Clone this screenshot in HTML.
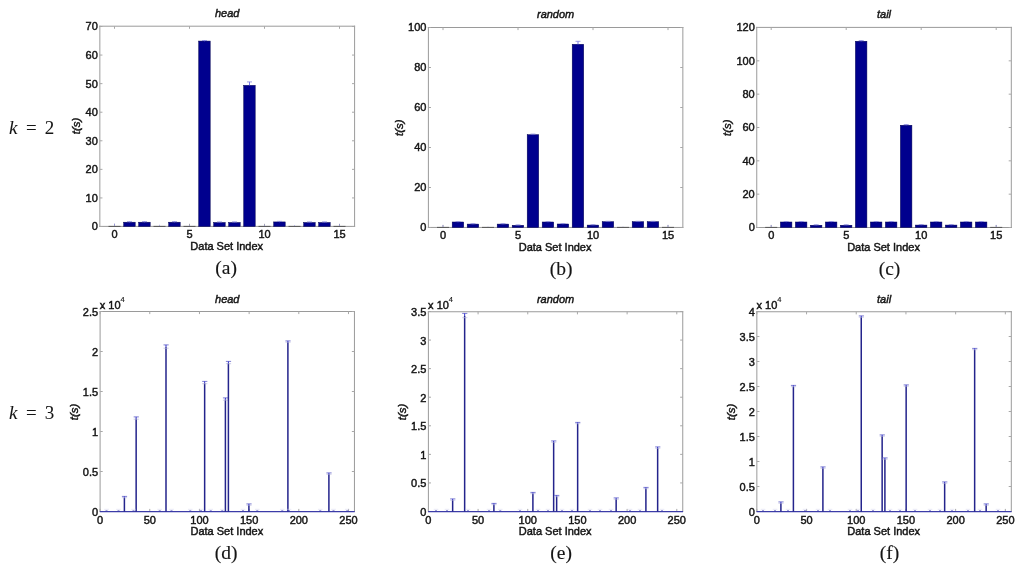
<!DOCTYPE html>
<html><head><meta charset="utf-8"><style>
html,body{margin:0;padding:0;background:#fff;width:1024px;height:576px;overflow:hidden;}
svg{display:block;will-change:transform;}
</style></head><body>
<svg width="1024" height="576" viewBox="0 0 1024 576">
<rect width="1024" height="576" fill="#fff"/>
<line x1="99.85" y1="25.70" x2="99.85" y2="226.90" stroke="#9a9a9a" stroke-width="1"/>
<line x1="354.60" y1="25.70" x2="354.60" y2="226.90" stroke="#9a9a9a" stroke-width="1"/>
<line x1="99.35" y1="26.20" x2="355.10" y2="26.20" stroke="#9a9a9a" stroke-width="1"/>
<line x1="99.35" y1="226.40" x2="355.10" y2="226.40" stroke="#9a9a9a" stroke-width="1"/>
<line x1="114.50" y1="26.20" x2="114.50" y2="28.80" stroke="#a8a8a8" stroke-width="1"/>
<line x1="114.50" y1="226.40" x2="114.50" y2="223.80" stroke="#a8a8a8" stroke-width="1"/>
<line x1="189.50" y1="26.20" x2="189.50" y2="28.80" stroke="#a8a8a8" stroke-width="1"/>
<line x1="189.50" y1="226.40" x2="189.50" y2="223.80" stroke="#a8a8a8" stroke-width="1"/>
<line x1="264.50" y1="26.20" x2="264.50" y2="28.80" stroke="#a8a8a8" stroke-width="1"/>
<line x1="264.50" y1="226.40" x2="264.50" y2="223.80" stroke="#a8a8a8" stroke-width="1"/>
<line x1="339.50" y1="26.20" x2="339.50" y2="28.80" stroke="#a8a8a8" stroke-width="1"/>
<line x1="339.50" y1="226.40" x2="339.50" y2="223.80" stroke="#a8a8a8" stroke-width="1"/>
<line x1="99.85" y1="226.50" x2="102.45" y2="226.50" stroke="#a8a8a8" stroke-width="1"/>
<line x1="354.60" y1="226.50" x2="352.00" y2="226.50" stroke="#a8a8a8" stroke-width="1"/>
<line x1="99.85" y1="197.93" x2="102.45" y2="197.93" stroke="#a8a8a8" stroke-width="1"/>
<line x1="354.60" y1="197.93" x2="352.00" y2="197.93" stroke="#a8a8a8" stroke-width="1"/>
<line x1="99.85" y1="169.36" x2="102.45" y2="169.36" stroke="#a8a8a8" stroke-width="1"/>
<line x1="354.60" y1="169.36" x2="352.00" y2="169.36" stroke="#a8a8a8" stroke-width="1"/>
<line x1="99.85" y1="140.79" x2="102.45" y2="140.79" stroke="#a8a8a8" stroke-width="1"/>
<line x1="354.60" y1="140.79" x2="352.00" y2="140.79" stroke="#a8a8a8" stroke-width="1"/>
<line x1="99.85" y1="112.21" x2="102.45" y2="112.21" stroke="#a8a8a8" stroke-width="1"/>
<line x1="354.60" y1="112.21" x2="352.00" y2="112.21" stroke="#a8a8a8" stroke-width="1"/>
<line x1="99.85" y1="83.64" x2="102.45" y2="83.64" stroke="#a8a8a8" stroke-width="1"/>
<line x1="354.60" y1="83.64" x2="352.00" y2="83.64" stroke="#a8a8a8" stroke-width="1"/>
<line x1="99.85" y1="55.07" x2="102.45" y2="55.07" stroke="#a8a8a8" stroke-width="1"/>
<line x1="354.60" y1="55.07" x2="352.00" y2="55.07" stroke="#a8a8a8" stroke-width="1"/>
<line x1="99.85" y1="26.50" x2="102.45" y2="26.50" stroke="#a8a8a8" stroke-width="1"/>
<line x1="354.60" y1="26.50" x2="352.00" y2="26.50" stroke="#a8a8a8" stroke-width="1"/>
<line x1="108.50" y1="226.40" x2="120.50" y2="226.40" stroke="#555" stroke-width="1"/>
<line x1="114.50" y1="225.90" x2="114.50" y2="223.64" stroke="#9090e0" stroke-width="0.7"/>
<rect x="123.70" y="222.21" width="11.5" height="4.29" fill="#00008e" stroke="#000050" stroke-width="0.5"/>
<line x1="129.50" y1="222.71" x2="129.50" y2="221.64" stroke="#3a3ae0" stroke-width="0.7"/>
<line x1="127.00" y1="221.64" x2="132.00" y2="221.64" stroke="#8484dc" stroke-width="0.8"/>
<rect x="138.70" y="222.21" width="11.5" height="4.29" fill="#00008e" stroke="#000050" stroke-width="0.5"/>
<line x1="144.50" y1="222.71" x2="144.50" y2="221.64" stroke="#3a3ae0" stroke-width="0.7"/>
<line x1="142.00" y1="221.64" x2="147.00" y2="221.64" stroke="#8484dc" stroke-width="0.8"/>
<line x1="153.50" y1="226.40" x2="165.50" y2="226.40" stroke="#555" stroke-width="1"/>
<line x1="159.50" y1="225.90" x2="159.50" y2="224.79" stroke="#9090e0" stroke-width="0.7"/>
<rect x="168.70" y="222.21" width="11.5" height="4.29" fill="#00008e" stroke="#000050" stroke-width="0.5"/>
<line x1="174.50" y1="222.71" x2="174.50" y2="221.64" stroke="#3a3ae0" stroke-width="0.7"/>
<line x1="172.00" y1="221.64" x2="177.00" y2="221.64" stroke="#8484dc" stroke-width="0.8"/>
<line x1="183.50" y1="226.40" x2="195.50" y2="226.40" stroke="#555" stroke-width="1"/>
<line x1="189.50" y1="225.90" x2="189.50" y2="225.07" stroke="#9090e0" stroke-width="0.7"/>
<rect x="198.70" y="41.07" width="11.5" height="185.43" fill="#00008e" stroke="#000050" stroke-width="0.5"/>
<line x1="204.50" y1="41.57" x2="204.50" y2="40.50" stroke="#3a3ae0" stroke-width="0.7"/>
<line x1="202.00" y1="40.50" x2="207.00" y2="40.50" stroke="#8484dc" stroke-width="0.8"/>
<rect x="213.70" y="222.50" width="11.5" height="4.00" fill="#00008e" stroke="#000050" stroke-width="0.5"/>
<line x1="219.50" y1="223.00" x2="219.50" y2="221.93" stroke="#3a3ae0" stroke-width="0.7"/>
<line x1="217.00" y1="221.93" x2="222.00" y2="221.93" stroke="#8484dc" stroke-width="0.8"/>
<rect x="228.70" y="222.50" width="11.5" height="4.00" fill="#00008e" stroke="#000050" stroke-width="0.5"/>
<line x1="234.50" y1="223.00" x2="234.50" y2="221.93" stroke="#3a3ae0" stroke-width="0.7"/>
<line x1="232.00" y1="221.93" x2="237.00" y2="221.93" stroke="#8484dc" stroke-width="0.8"/>
<rect x="243.70" y="85.36" width="11.5" height="141.14" fill="#00008e" stroke="#000050" stroke-width="0.5"/>
<line x1="249.50" y1="85.86" x2="249.50" y2="81.93" stroke="#3a3ae0" stroke-width="0.7"/>
<line x1="247.00" y1="81.93" x2="252.00" y2="81.93" stroke="#8484dc" stroke-width="0.8"/>
<line x1="258.50" y1="226.40" x2="270.50" y2="226.40" stroke="#555" stroke-width="1"/>
<line x1="264.50" y1="225.90" x2="264.50" y2="224.79" stroke="#9090e0" stroke-width="0.7"/>
<rect x="273.70" y="221.93" width="11.5" height="4.57" fill="#00008e" stroke="#000050" stroke-width="0.5"/>
<line x1="279.50" y1="222.43" x2="279.50" y2="221.36" stroke="#3a3ae0" stroke-width="0.7"/>
<line x1="277.00" y1="221.36" x2="282.00" y2="221.36" stroke="#8484dc" stroke-width="0.8"/>
<line x1="288.50" y1="226.40" x2="300.50" y2="226.40" stroke="#555" stroke-width="1"/>
<line x1="294.50" y1="225.90" x2="294.50" y2="225.07" stroke="#9090e0" stroke-width="0.7"/>
<rect x="303.70" y="222.50" width="11.5" height="4.00" fill="#00008e" stroke="#000050" stroke-width="0.5"/>
<line x1="309.50" y1="223.00" x2="309.50" y2="221.93" stroke="#3a3ae0" stroke-width="0.7"/>
<line x1="307.00" y1="221.93" x2="312.00" y2="221.93" stroke="#8484dc" stroke-width="0.8"/>
<rect x="318.70" y="222.50" width="11.5" height="4.00" fill="#00008e" stroke="#000050" stroke-width="0.5"/>
<line x1="324.50" y1="223.00" x2="324.50" y2="221.93" stroke="#3a3ae0" stroke-width="0.7"/>
<line x1="322.00" y1="221.93" x2="327.00" y2="221.93" stroke="#8484dc" stroke-width="0.8"/>
<line x1="333.50" y1="226.40" x2="345.50" y2="226.40" stroke="#555" stroke-width="1"/>
<line x1="339.50" y1="225.90" x2="339.50" y2="224.21" stroke="#9090e0" stroke-width="0.7"/>
<text x="97.85" y="230.45" font-family='"Liberation Sans", sans-serif' font-size="11" text-anchor="end" fill="#151515" stroke="#151515" stroke-width="0.45" >0</text>
<text x="97.85" y="201.88" font-family='"Liberation Sans", sans-serif' font-size="11" text-anchor="end" fill="#151515" stroke="#151515" stroke-width="0.45" >10</text>
<text x="97.85" y="173.31" font-family='"Liberation Sans", sans-serif' font-size="11" text-anchor="end" fill="#151515" stroke="#151515" stroke-width="0.45" >20</text>
<text x="97.85" y="144.74" font-family='"Liberation Sans", sans-serif' font-size="11" text-anchor="end" fill="#151515" stroke="#151515" stroke-width="0.45" >30</text>
<text x="97.85" y="116.16" font-family='"Liberation Sans", sans-serif' font-size="11" text-anchor="end" fill="#151515" stroke="#151515" stroke-width="0.45" >40</text>
<text x="97.85" y="87.59" font-family='"Liberation Sans", sans-serif' font-size="11" text-anchor="end" fill="#151515" stroke="#151515" stroke-width="0.45" >50</text>
<text x="97.85" y="59.02" font-family='"Liberation Sans", sans-serif' font-size="11" text-anchor="end" fill="#151515" stroke="#151515" stroke-width="0.45" >60</text>
<text x="97.85" y="30.45" font-family='"Liberation Sans", sans-serif' font-size="11" text-anchor="end" fill="#151515" stroke="#151515" stroke-width="0.45" >70</text>
<text x="114.50" y="238.00" font-family='"Liberation Sans", sans-serif' font-size="11" text-anchor="middle" fill="#151515" stroke="#151515" stroke-width="0.45" >0</text>
<text x="189.50" y="238.00" font-family='"Liberation Sans", sans-serif' font-size="11" text-anchor="middle" fill="#151515" stroke="#151515" stroke-width="0.45" >5</text>
<text x="264.50" y="238.00" font-family='"Liberation Sans", sans-serif' font-size="11" text-anchor="middle" fill="#151515" stroke="#151515" stroke-width="0.45" >10</text>
<text x="339.50" y="238.00" font-family='"Liberation Sans", sans-serif' font-size="11" text-anchor="middle" fill="#151515" stroke="#151515" stroke-width="0.45" >15</text>
<text x="227.23" y="17.00" font-family='"Liberation Sans", sans-serif' font-size="11" text-anchor="middle" fill="#151515" stroke="#151515" stroke-width="0.45" font-style="italic" >head</text>
<text x="226.73" y="249.50" font-family='"Liberation Sans", sans-serif' font-size="11" text-anchor="middle" fill="#151515" stroke="#151515" stroke-width="0.45" >Data Set Index</text>
<text x="80.25" y="126.00" font-family='"Liberation Sans", sans-serif' font-size="11.5" text-anchor="middle" fill="#151515" stroke="#151515" stroke-width="0.45" font-style="italic" transform="rotate(-90 80.25 126.00)">t(s)</text>
<text x="226.20" y="273.80" font-family='"Liberation Serif", serif' font-size="19.5" text-anchor="middle" fill="#151515" stroke="#151515" stroke-width="0.15" >(a)</text>
<line x1="428.40" y1="27.00" x2="428.40" y2="227.95" stroke="#9a9a9a" stroke-width="1"/>
<line x1="682.85" y1="27.00" x2="682.85" y2="227.95" stroke="#9a9a9a" stroke-width="1"/>
<line x1="427.90" y1="27.50" x2="683.35" y2="27.50" stroke="#9a9a9a" stroke-width="1"/>
<line x1="427.90" y1="227.45" x2="683.35" y2="227.45" stroke="#9a9a9a" stroke-width="1"/>
<line x1="443.00" y1="27.50" x2="443.00" y2="30.10" stroke="#a8a8a8" stroke-width="1"/>
<line x1="443.00" y1="227.45" x2="443.00" y2="224.85" stroke="#a8a8a8" stroke-width="1"/>
<line x1="518.00" y1="27.50" x2="518.00" y2="30.10" stroke="#a8a8a8" stroke-width="1"/>
<line x1="518.00" y1="227.45" x2="518.00" y2="224.85" stroke="#a8a8a8" stroke-width="1"/>
<line x1="593.00" y1="27.50" x2="593.00" y2="30.10" stroke="#a8a8a8" stroke-width="1"/>
<line x1="593.00" y1="227.45" x2="593.00" y2="224.85" stroke="#a8a8a8" stroke-width="1"/>
<line x1="668.00" y1="27.50" x2="668.00" y2="30.10" stroke="#a8a8a8" stroke-width="1"/>
<line x1="668.00" y1="227.45" x2="668.00" y2="224.85" stroke="#a8a8a8" stroke-width="1"/>
<line x1="428.40" y1="227.50" x2="431.00" y2="227.50" stroke="#a8a8a8" stroke-width="1"/>
<line x1="682.85" y1="227.50" x2="680.25" y2="227.50" stroke="#a8a8a8" stroke-width="1"/>
<line x1="428.40" y1="187.50" x2="431.00" y2="187.50" stroke="#a8a8a8" stroke-width="1"/>
<line x1="682.85" y1="187.50" x2="680.25" y2="187.50" stroke="#a8a8a8" stroke-width="1"/>
<line x1="428.40" y1="147.50" x2="431.00" y2="147.50" stroke="#a8a8a8" stroke-width="1"/>
<line x1="682.85" y1="147.50" x2="680.25" y2="147.50" stroke="#a8a8a8" stroke-width="1"/>
<line x1="428.40" y1="107.50" x2="431.00" y2="107.50" stroke="#a8a8a8" stroke-width="1"/>
<line x1="682.85" y1="107.50" x2="680.25" y2="107.50" stroke="#a8a8a8" stroke-width="1"/>
<line x1="428.40" y1="67.50" x2="431.00" y2="67.50" stroke="#a8a8a8" stroke-width="1"/>
<line x1="682.85" y1="67.50" x2="680.25" y2="67.50" stroke="#a8a8a8" stroke-width="1"/>
<line x1="428.40" y1="27.50" x2="431.00" y2="27.50" stroke="#a8a8a8" stroke-width="1"/>
<line x1="682.85" y1="27.50" x2="680.25" y2="27.50" stroke="#a8a8a8" stroke-width="1"/>
<line x1="437.00" y1="227.40" x2="449.00" y2="227.40" stroke="#555" stroke-width="1"/>
<line x1="443.00" y1="226.90" x2="443.00" y2="225.10" stroke="#9090e0" stroke-width="0.7"/>
<rect x="452.20" y="222.00" width="11.5" height="5.50" fill="#00008e" stroke="#000050" stroke-width="0.5"/>
<line x1="458.00" y1="222.50" x2="458.00" y2="221.60" stroke="#3a3ae0" stroke-width="0.7"/>
<line x1="455.50" y1="221.60" x2="460.50" y2="221.60" stroke="#8484dc" stroke-width="0.8"/>
<rect x="467.20" y="224.10" width="11.5" height="3.40" fill="#00008e" stroke="#000050" stroke-width="0.5"/>
<line x1="473.00" y1="224.60" x2="473.00" y2="223.70" stroke="#3a3ae0" stroke-width="0.7"/>
<line x1="470.50" y1="223.70" x2="475.50" y2="223.70" stroke="#8484dc" stroke-width="0.8"/>
<line x1="482.00" y1="227.40" x2="494.00" y2="227.40" stroke="#555" stroke-width="1"/>
<line x1="488.00" y1="226.90" x2="488.00" y2="226.50" stroke="#9090e0" stroke-width="0.7"/>
<rect x="497.20" y="224.10" width="11.5" height="3.40" fill="#00008e" stroke="#000050" stroke-width="0.5"/>
<line x1="503.00" y1="224.60" x2="503.00" y2="223.70" stroke="#3a3ae0" stroke-width="0.7"/>
<line x1="500.50" y1="223.70" x2="505.50" y2="223.70" stroke="#8484dc" stroke-width="0.8"/>
<rect x="512.20" y="225.30" width="11.5" height="2.20" fill="#00008e" stroke="#000050" stroke-width="0.5"/>
<line x1="518.00" y1="225.80" x2="518.00" y2="224.90" stroke="#3a3ae0" stroke-width="0.7"/>
<line x1="515.50" y1="224.90" x2="520.50" y2="224.90" stroke="#8484dc" stroke-width="0.8"/>
<rect x="527.20" y="134.70" width="11.5" height="92.80" fill="#00008e" stroke="#000050" stroke-width="0.5"/>
<line x1="533.00" y1="135.20" x2="533.00" y2="134.10" stroke="#3a3ae0" stroke-width="0.7"/>
<line x1="530.50" y1="134.10" x2="535.50" y2="134.10" stroke="#8484dc" stroke-width="0.8"/>
<rect x="542.20" y="222.00" width="11.5" height="5.50" fill="#00008e" stroke="#000050" stroke-width="0.5"/>
<line x1="548.00" y1="222.50" x2="548.00" y2="221.60" stroke="#3a3ae0" stroke-width="0.7"/>
<line x1="545.50" y1="221.60" x2="550.50" y2="221.60" stroke="#8484dc" stroke-width="0.8"/>
<rect x="557.20" y="224.00" width="11.5" height="3.50" fill="#00008e" stroke="#000050" stroke-width="0.5"/>
<line x1="563.00" y1="224.50" x2="563.00" y2="223.60" stroke="#3a3ae0" stroke-width="0.7"/>
<line x1="560.50" y1="223.60" x2="565.50" y2="223.60" stroke="#8484dc" stroke-width="0.8"/>
<rect x="572.20" y="44.30" width="11.5" height="183.20" fill="#00008e" stroke="#000050" stroke-width="0.5"/>
<line x1="578.00" y1="44.80" x2="578.00" y2="41.30" stroke="#3a3ae0" stroke-width="0.7"/>
<line x1="575.50" y1="41.30" x2="580.50" y2="41.30" stroke="#8484dc" stroke-width="0.8"/>
<rect x="587.20" y="225.10" width="11.5" height="2.40" fill="#00008e" stroke="#000050" stroke-width="0.5"/>
<line x1="593.00" y1="225.60" x2="593.00" y2="224.70" stroke="#3a3ae0" stroke-width="0.7"/>
<line x1="590.50" y1="224.70" x2="595.50" y2="224.70" stroke="#8484dc" stroke-width="0.8"/>
<rect x="602.20" y="221.70" width="11.5" height="5.80" fill="#00008e" stroke="#000050" stroke-width="0.5"/>
<line x1="608.00" y1="222.20" x2="608.00" y2="221.30" stroke="#3a3ae0" stroke-width="0.7"/>
<line x1="605.50" y1="221.30" x2="610.50" y2="221.30" stroke="#8484dc" stroke-width="0.8"/>
<line x1="617.00" y1="227.40" x2="629.00" y2="227.40" stroke="#555" stroke-width="1"/>
<line x1="623.00" y1="226.90" x2="623.00" y2="226.50" stroke="#9090e0" stroke-width="0.7"/>
<rect x="632.20" y="221.70" width="11.5" height="5.80" fill="#00008e" stroke="#000050" stroke-width="0.5"/>
<line x1="638.00" y1="222.20" x2="638.00" y2="221.30" stroke="#3a3ae0" stroke-width="0.7"/>
<line x1="635.50" y1="221.30" x2="640.50" y2="221.30" stroke="#8484dc" stroke-width="0.8"/>
<rect x="647.20" y="221.70" width="11.5" height="5.80" fill="#00008e" stroke="#000050" stroke-width="0.5"/>
<line x1="653.00" y1="222.20" x2="653.00" y2="221.30" stroke="#3a3ae0" stroke-width="0.7"/>
<line x1="650.50" y1="221.30" x2="655.50" y2="221.30" stroke="#8484dc" stroke-width="0.8"/>
<line x1="662.00" y1="227.40" x2="674.00" y2="227.40" stroke="#555" stroke-width="1"/>
<line x1="668.00" y1="226.90" x2="668.00" y2="225.10" stroke="#9090e0" stroke-width="0.7"/>
<text x="426.40" y="231.45" font-family='"Liberation Sans", sans-serif' font-size="11" text-anchor="end" fill="#151515" stroke="#151515" stroke-width="0.45" >0</text>
<text x="426.40" y="191.45" font-family='"Liberation Sans", sans-serif' font-size="11" text-anchor="end" fill="#151515" stroke="#151515" stroke-width="0.45" >20</text>
<text x="426.40" y="151.45" font-family='"Liberation Sans", sans-serif' font-size="11" text-anchor="end" fill="#151515" stroke="#151515" stroke-width="0.45" >40</text>
<text x="426.40" y="111.45" font-family='"Liberation Sans", sans-serif' font-size="11" text-anchor="end" fill="#151515" stroke="#151515" stroke-width="0.45" >60</text>
<text x="426.40" y="71.45" font-family='"Liberation Sans", sans-serif' font-size="11" text-anchor="end" fill="#151515" stroke="#151515" stroke-width="0.45" >80</text>
<text x="426.40" y="31.45" font-family='"Liberation Sans", sans-serif' font-size="11" text-anchor="end" fill="#151515" stroke="#151515" stroke-width="0.45" >100</text>
<text x="443.00" y="239.00" font-family='"Liberation Sans", sans-serif' font-size="11" text-anchor="middle" fill="#151515" stroke="#151515" stroke-width="0.45" >0</text>
<text x="518.00" y="239.00" font-family='"Liberation Sans", sans-serif' font-size="11" text-anchor="middle" fill="#151515" stroke="#151515" stroke-width="0.45" >5</text>
<text x="593.00" y="239.00" font-family='"Liberation Sans", sans-serif' font-size="11" text-anchor="middle" fill="#151515" stroke="#151515" stroke-width="0.45" >10</text>
<text x="668.00" y="239.00" font-family='"Liberation Sans", sans-serif' font-size="11" text-anchor="middle" fill="#151515" stroke="#151515" stroke-width="0.45" >15</text>
<text x="555.62" y="18.10" font-family='"Liberation Sans", sans-serif' font-size="11" text-anchor="middle" fill="#151515" stroke="#151515" stroke-width="0.45" font-style="italic" >random</text>
<text x="555.12" y="250.50" font-family='"Liberation Sans", sans-serif' font-size="11" text-anchor="middle" fill="#151515" stroke="#151515" stroke-width="0.45" >Data Set Index</text>
<text x="402.60" y="127.60" font-family='"Liberation Sans", sans-serif' font-size="11.5" text-anchor="middle" fill="#151515" stroke="#151515" stroke-width="0.45" font-style="italic" transform="rotate(-90 402.60 127.60)">t(s)</text>
<text x="561.20" y="274.80" font-family='"Liberation Serif", serif' font-size="19.5" text-anchor="middle" fill="#151515" stroke="#151515" stroke-width="0.15" >(b)</text>
<line x1="756.75" y1="26.90" x2="756.75" y2="228.00" stroke="#9a9a9a" stroke-width="1"/>
<line x1="1011.30" y1="26.90" x2="1011.30" y2="228.00" stroke="#9a9a9a" stroke-width="1"/>
<line x1="756.25" y1="27.40" x2="1011.80" y2="27.40" stroke="#9a9a9a" stroke-width="1"/>
<line x1="756.25" y1="227.50" x2="1011.80" y2="227.50" stroke="#9a9a9a" stroke-width="1"/>
<line x1="771.20" y1="27.40" x2="771.20" y2="30.00" stroke="#a8a8a8" stroke-width="1"/>
<line x1="771.20" y1="227.50" x2="771.20" y2="224.90" stroke="#a8a8a8" stroke-width="1"/>
<line x1="846.20" y1="27.40" x2="846.20" y2="30.00" stroke="#a8a8a8" stroke-width="1"/>
<line x1="846.20" y1="227.50" x2="846.20" y2="224.90" stroke="#a8a8a8" stroke-width="1"/>
<line x1="921.20" y1="27.40" x2="921.20" y2="30.00" stroke="#a8a8a8" stroke-width="1"/>
<line x1="921.20" y1="227.50" x2="921.20" y2="224.90" stroke="#a8a8a8" stroke-width="1"/>
<line x1="996.20" y1="27.40" x2="996.20" y2="30.00" stroke="#a8a8a8" stroke-width="1"/>
<line x1="996.20" y1="227.50" x2="996.20" y2="224.90" stroke="#a8a8a8" stroke-width="1"/>
<line x1="756.75" y1="227.50" x2="759.35" y2="227.50" stroke="#a8a8a8" stroke-width="1"/>
<line x1="1011.30" y1="227.50" x2="1008.70" y2="227.50" stroke="#a8a8a8" stroke-width="1"/>
<line x1="756.75" y1="194.17" x2="759.35" y2="194.17" stroke="#a8a8a8" stroke-width="1"/>
<line x1="1011.30" y1="194.17" x2="1008.70" y2="194.17" stroke="#a8a8a8" stroke-width="1"/>
<line x1="756.75" y1="160.83" x2="759.35" y2="160.83" stroke="#a8a8a8" stroke-width="1"/>
<line x1="1011.30" y1="160.83" x2="1008.70" y2="160.83" stroke="#a8a8a8" stroke-width="1"/>
<line x1="756.75" y1="127.50" x2="759.35" y2="127.50" stroke="#a8a8a8" stroke-width="1"/>
<line x1="1011.30" y1="127.50" x2="1008.70" y2="127.50" stroke="#a8a8a8" stroke-width="1"/>
<line x1="756.75" y1="94.17" x2="759.35" y2="94.17" stroke="#a8a8a8" stroke-width="1"/>
<line x1="1011.30" y1="94.17" x2="1008.70" y2="94.17" stroke="#a8a8a8" stroke-width="1"/>
<line x1="756.75" y1="60.83" x2="759.35" y2="60.83" stroke="#a8a8a8" stroke-width="1"/>
<line x1="1011.30" y1="60.83" x2="1008.70" y2="60.83" stroke="#a8a8a8" stroke-width="1"/>
<line x1="756.75" y1="27.50" x2="759.35" y2="27.50" stroke="#a8a8a8" stroke-width="1"/>
<line x1="1011.30" y1="27.50" x2="1008.70" y2="27.50" stroke="#a8a8a8" stroke-width="1"/>
<line x1="765.20" y1="227.40" x2="777.20" y2="227.40" stroke="#555" stroke-width="1"/>
<line x1="771.20" y1="226.90" x2="771.20" y2="225.00" stroke="#9090e0" stroke-width="0.7"/>
<rect x="780.40" y="222.00" width="11.5" height="5.50" fill="#00008e" stroke="#000050" stroke-width="0.5"/>
<line x1="786.20" y1="222.50" x2="786.20" y2="221.50" stroke="#3a3ae0" stroke-width="0.7"/>
<line x1="783.70" y1="221.50" x2="788.70" y2="221.50" stroke="#8484dc" stroke-width="0.8"/>
<rect x="795.40" y="222.00" width="11.5" height="5.50" fill="#00008e" stroke="#000050" stroke-width="0.5"/>
<line x1="801.20" y1="222.50" x2="801.20" y2="221.50" stroke="#3a3ae0" stroke-width="0.7"/>
<line x1="798.70" y1="221.50" x2="803.70" y2="221.50" stroke="#8484dc" stroke-width="0.8"/>
<rect x="810.40" y="225.25" width="11.5" height="2.25" fill="#00008e" stroke="#000050" stroke-width="0.5"/>
<line x1="816.20" y1="225.75" x2="816.20" y2="224.75" stroke="#3a3ae0" stroke-width="0.7"/>
<line x1="813.70" y1="224.75" x2="818.70" y2="224.75" stroke="#8484dc" stroke-width="0.8"/>
<rect x="825.40" y="222.00" width="11.5" height="5.50" fill="#00008e" stroke="#000050" stroke-width="0.5"/>
<line x1="831.20" y1="222.50" x2="831.20" y2="221.50" stroke="#3a3ae0" stroke-width="0.7"/>
<line x1="828.70" y1="221.50" x2="833.70" y2="221.50" stroke="#8484dc" stroke-width="0.8"/>
<rect x="840.40" y="225.25" width="11.5" height="2.25" fill="#00008e" stroke="#000050" stroke-width="0.5"/>
<line x1="846.20" y1="225.75" x2="846.20" y2="224.75" stroke="#3a3ae0" stroke-width="0.7"/>
<line x1="843.70" y1="224.75" x2="848.70" y2="224.75" stroke="#8484dc" stroke-width="0.8"/>
<rect x="855.40" y="41.25" width="11.5" height="186.25" fill="#00008e" stroke="#000050" stroke-width="0.5"/>
<line x1="861.20" y1="41.75" x2="861.20" y2="40.58" stroke="#3a3ae0" stroke-width="0.7"/>
<line x1="858.70" y1="40.58" x2="863.70" y2="40.58" stroke="#8484dc" stroke-width="0.8"/>
<rect x="870.40" y="222.00" width="11.5" height="5.50" fill="#00008e" stroke="#000050" stroke-width="0.5"/>
<line x1="876.20" y1="222.50" x2="876.20" y2="221.50" stroke="#3a3ae0" stroke-width="0.7"/>
<line x1="873.70" y1="221.50" x2="878.70" y2="221.50" stroke="#8484dc" stroke-width="0.8"/>
<rect x="885.40" y="222.00" width="11.5" height="5.50" fill="#00008e" stroke="#000050" stroke-width="0.5"/>
<line x1="891.20" y1="222.50" x2="891.20" y2="221.50" stroke="#3a3ae0" stroke-width="0.7"/>
<line x1="888.70" y1="221.50" x2="893.70" y2="221.50" stroke="#8484dc" stroke-width="0.8"/>
<rect x="900.40" y="125.25" width="11.5" height="102.25" fill="#00008e" stroke="#000050" stroke-width="0.5"/>
<line x1="906.20" y1="125.75" x2="906.20" y2="124.58" stroke="#3a3ae0" stroke-width="0.7"/>
<line x1="903.70" y1="124.58" x2="908.70" y2="124.58" stroke="#8484dc" stroke-width="0.8"/>
<rect x="915.40" y="225.08" width="11.5" height="2.42" fill="#00008e" stroke="#000050" stroke-width="0.5"/>
<line x1="921.20" y1="225.58" x2="921.20" y2="224.58" stroke="#3a3ae0" stroke-width="0.7"/>
<line x1="918.70" y1="224.58" x2="923.70" y2="224.58" stroke="#8484dc" stroke-width="0.8"/>
<rect x="930.40" y="222.00" width="11.5" height="5.50" fill="#00008e" stroke="#000050" stroke-width="0.5"/>
<line x1="936.20" y1="222.50" x2="936.20" y2="221.50" stroke="#3a3ae0" stroke-width="0.7"/>
<line x1="933.70" y1="221.50" x2="938.70" y2="221.50" stroke="#8484dc" stroke-width="0.8"/>
<rect x="945.40" y="225.08" width="11.5" height="2.42" fill="#00008e" stroke="#000050" stroke-width="0.5"/>
<line x1="951.20" y1="225.58" x2="951.20" y2="224.58" stroke="#3a3ae0" stroke-width="0.7"/>
<line x1="948.70" y1="224.58" x2="953.70" y2="224.58" stroke="#8484dc" stroke-width="0.8"/>
<rect x="960.40" y="222.00" width="11.5" height="5.50" fill="#00008e" stroke="#000050" stroke-width="0.5"/>
<line x1="966.20" y1="222.50" x2="966.20" y2="221.50" stroke="#3a3ae0" stroke-width="0.7"/>
<line x1="963.70" y1="221.50" x2="968.70" y2="221.50" stroke="#8484dc" stroke-width="0.8"/>
<rect x="975.40" y="222.00" width="11.5" height="5.50" fill="#00008e" stroke="#000050" stroke-width="0.5"/>
<line x1="981.20" y1="222.50" x2="981.20" y2="221.50" stroke="#3a3ae0" stroke-width="0.7"/>
<line x1="978.70" y1="221.50" x2="983.70" y2="221.50" stroke="#8484dc" stroke-width="0.8"/>
<line x1="990.20" y1="227.40" x2="1002.20" y2="227.40" stroke="#555" stroke-width="1"/>
<line x1="996.20" y1="226.90" x2="996.20" y2="225.00" stroke="#9090e0" stroke-width="0.7"/>
<text x="754.75" y="231.45" font-family='"Liberation Sans", sans-serif' font-size="11" text-anchor="end" fill="#151515" stroke="#151515" stroke-width="0.45" >0</text>
<text x="754.75" y="198.12" font-family='"Liberation Sans", sans-serif' font-size="11" text-anchor="end" fill="#151515" stroke="#151515" stroke-width="0.45" >20</text>
<text x="754.75" y="164.78" font-family='"Liberation Sans", sans-serif' font-size="11" text-anchor="end" fill="#151515" stroke="#151515" stroke-width="0.45" >40</text>
<text x="754.75" y="131.45" font-family='"Liberation Sans", sans-serif' font-size="11" text-anchor="end" fill="#151515" stroke="#151515" stroke-width="0.45" >60</text>
<text x="754.75" y="98.12" font-family='"Liberation Sans", sans-serif' font-size="11" text-anchor="end" fill="#151515" stroke="#151515" stroke-width="0.45" >80</text>
<text x="754.75" y="64.78" font-family='"Liberation Sans", sans-serif' font-size="11" text-anchor="end" fill="#151515" stroke="#151515" stroke-width="0.45" >100</text>
<text x="754.75" y="31.45" font-family='"Liberation Sans", sans-serif' font-size="11" text-anchor="end" fill="#151515" stroke="#151515" stroke-width="0.45" >120</text>
<text x="771.20" y="239.00" font-family='"Liberation Sans", sans-serif' font-size="11" text-anchor="middle" fill="#151515" stroke="#151515" stroke-width="0.45" >0</text>
<text x="846.20" y="239.00" font-family='"Liberation Sans", sans-serif' font-size="11" text-anchor="middle" fill="#151515" stroke="#151515" stroke-width="0.45" >5</text>
<text x="921.20" y="239.00" font-family='"Liberation Sans", sans-serif' font-size="11" text-anchor="middle" fill="#151515" stroke="#151515" stroke-width="0.45" >10</text>
<text x="996.20" y="239.00" font-family='"Liberation Sans", sans-serif' font-size="11" text-anchor="middle" fill="#151515" stroke="#151515" stroke-width="0.45" >15</text>
<text x="884.02" y="18.10" font-family='"Liberation Sans", sans-serif' font-size="11" text-anchor="middle" fill="#151515" stroke="#151515" stroke-width="0.45" font-style="italic" >tail</text>
<text x="883.52" y="250.50" font-family='"Liberation Sans", sans-serif' font-size="11" text-anchor="middle" fill="#151515" stroke="#151515" stroke-width="0.45" >Data Set Index</text>
<text x="731.45" y="127.60" font-family='"Liberation Sans", sans-serif' font-size="11.5" text-anchor="middle" fill="#151515" stroke="#151515" stroke-width="0.45" font-style="italic" transform="rotate(-90 731.45 127.60)">t(s)</text>
<text x="889.50" y="274.80" font-family='"Liberation Serif", serif' font-size="19.5" text-anchor="middle" fill="#151515" stroke="#151515" stroke-width="0.15" >(c)</text>
<line x1="100.10" y1="311.00" x2="100.10" y2="512.00" stroke="#9a9a9a" stroke-width="1"/>
<line x1="354.45" y1="311.00" x2="354.45" y2="512.00" stroke="#9a9a9a" stroke-width="1"/>
<line x1="99.60" y1="311.50" x2="354.95" y2="311.50" stroke="#9a9a9a" stroke-width="1"/>
<line x1="100.10" y1="311.50" x2="100.10" y2="314.10" stroke="#a8a8a8" stroke-width="1"/>
<line x1="100.10" y1="511.50" x2="100.10" y2="508.90" stroke="#a8a8a8" stroke-width="1"/>
<line x1="149.78" y1="311.50" x2="149.78" y2="314.10" stroke="#a8a8a8" stroke-width="1"/>
<line x1="149.78" y1="511.50" x2="149.78" y2="508.90" stroke="#a8a8a8" stroke-width="1"/>
<line x1="199.46" y1="311.50" x2="199.46" y2="314.10" stroke="#a8a8a8" stroke-width="1"/>
<line x1="199.46" y1="511.50" x2="199.46" y2="508.90" stroke="#a8a8a8" stroke-width="1"/>
<line x1="249.13" y1="311.50" x2="249.13" y2="314.10" stroke="#a8a8a8" stroke-width="1"/>
<line x1="249.13" y1="511.50" x2="249.13" y2="508.90" stroke="#a8a8a8" stroke-width="1"/>
<line x1="298.81" y1="311.50" x2="298.81" y2="314.10" stroke="#a8a8a8" stroke-width="1"/>
<line x1="298.81" y1="511.50" x2="298.81" y2="508.90" stroke="#a8a8a8" stroke-width="1"/>
<line x1="348.49" y1="311.50" x2="348.49" y2="314.10" stroke="#a8a8a8" stroke-width="1"/>
<line x1="348.49" y1="511.50" x2="348.49" y2="508.90" stroke="#a8a8a8" stroke-width="1"/>
<line x1="100.10" y1="511.50" x2="102.70" y2="511.50" stroke="#a8a8a8" stroke-width="1"/>
<line x1="354.45" y1="511.50" x2="351.85" y2="511.50" stroke="#a8a8a8" stroke-width="1"/>
<line x1="100.10" y1="471.50" x2="102.70" y2="471.50" stroke="#a8a8a8" stroke-width="1"/>
<line x1="354.45" y1="471.50" x2="351.85" y2="471.50" stroke="#a8a8a8" stroke-width="1"/>
<line x1="100.10" y1="431.50" x2="102.70" y2="431.50" stroke="#a8a8a8" stroke-width="1"/>
<line x1="354.45" y1="431.50" x2="351.85" y2="431.50" stroke="#a8a8a8" stroke-width="1"/>
<line x1="100.10" y1="391.50" x2="102.70" y2="391.50" stroke="#a8a8a8" stroke-width="1"/>
<line x1="354.45" y1="391.50" x2="351.85" y2="391.50" stroke="#a8a8a8" stroke-width="1"/>
<line x1="100.10" y1="351.50" x2="102.70" y2="351.50" stroke="#a8a8a8" stroke-width="1"/>
<line x1="354.45" y1="351.50" x2="351.85" y2="351.50" stroke="#a8a8a8" stroke-width="1"/>
<line x1="100.10" y1="311.50" x2="102.70" y2="311.50" stroke="#a8a8a8" stroke-width="1"/>
<line x1="354.45" y1="311.50" x2="351.85" y2="311.50" stroke="#a8a8a8" stroke-width="1"/>
<line x1="99.80" y1="511.70" x2="354.75" y2="511.70" stroke="#3c3ca8" stroke-width="1.3"/>
<rect x="123.65" y="497.50" width="1.5" height="14.10" fill="#24248c"/>
<line x1="121.90" y1="496.40" x2="127.10" y2="496.40" stroke="#7070cc" stroke-width="0.9"/>
<line x1="121.90" y1="497.70" x2="127.10" y2="497.70" stroke="#b4b4e0" stroke-width="0.7"/>
<line x1="124.40" y1="496.40" x2="124.40" y2="497.50" stroke="#3030d0" stroke-width="1"/>
<rect x="135.40" y="418.50" width="1.5" height="93.10" fill="#24248c"/>
<line x1="133.65" y1="416.90" x2="138.85" y2="416.90" stroke="#7070cc" stroke-width="0.9"/>
<line x1="133.65" y1="419.20" x2="138.85" y2="419.20" stroke="#b4b4e0" stroke-width="0.7"/>
<line x1="136.15" y1="416.90" x2="136.15" y2="418.50" stroke="#3030d0" stroke-width="1"/>
<rect x="165.25" y="347.00" width="1.5" height="164.60" fill="#24248c"/>
<line x1="163.50" y1="344.90" x2="168.70" y2="344.90" stroke="#7070cc" stroke-width="0.9"/>
<line x1="163.50" y1="348.20" x2="168.70" y2="348.20" stroke="#b4b4e0" stroke-width="0.7"/>
<line x1="166.00" y1="344.90" x2="166.00" y2="347.00" stroke="#3030d0" stroke-width="1"/>
<rect x="203.90" y="383.00" width="1.5" height="128.60" fill="#24248c"/>
<line x1="202.15" y1="381.40" x2="207.35" y2="381.40" stroke="#7070cc" stroke-width="0.9"/>
<line x1="202.15" y1="383.70" x2="207.35" y2="383.70" stroke="#b4b4e0" stroke-width="0.7"/>
<line x1="204.65" y1="381.40" x2="204.65" y2="383.00" stroke="#3030d0" stroke-width="1"/>
<rect x="224.65" y="399.50" width="1.5" height="112.10" fill="#24248c"/>
<line x1="222.90" y1="397.90" x2="228.10" y2="397.90" stroke="#7070cc" stroke-width="0.9"/>
<line x1="222.90" y1="400.20" x2="228.10" y2="400.20" stroke="#b4b4e0" stroke-width="0.7"/>
<line x1="225.40" y1="397.90" x2="225.40" y2="399.50" stroke="#3030d0" stroke-width="1"/>
<rect x="227.65" y="363.00" width="1.5" height="148.60" fill="#24248c"/>
<line x1="225.90" y1="361.40" x2="231.10" y2="361.40" stroke="#7070cc" stroke-width="0.9"/>
<line x1="225.90" y1="363.70" x2="231.10" y2="363.70" stroke="#b4b4e0" stroke-width="0.7"/>
<line x1="228.40" y1="361.40" x2="228.40" y2="363.00" stroke="#3030d0" stroke-width="1"/>
<rect x="248.15" y="505.00" width="1.5" height="6.60" fill="#24248c"/>
<line x1="246.40" y1="503.90" x2="251.60" y2="503.90" stroke="#7070cc" stroke-width="0.9"/>
<line x1="246.40" y1="505.20" x2="251.60" y2="505.20" stroke="#b4b4e0" stroke-width="0.7"/>
<line x1="248.90" y1="503.90" x2="248.90" y2="505.00" stroke="#3030d0" stroke-width="1"/>
<rect x="287.15" y="342.00" width="1.5" height="169.60" fill="#24248c"/>
<line x1="285.40" y1="340.90" x2="290.60" y2="340.90" stroke="#7070cc" stroke-width="0.9"/>
<line x1="285.40" y1="342.20" x2="290.60" y2="342.20" stroke="#b4b4e0" stroke-width="0.7"/>
<line x1="287.90" y1="340.90" x2="287.90" y2="342.00" stroke="#3030d0" stroke-width="1"/>
<rect x="328.15" y="474.00" width="1.5" height="37.60" fill="#24248c"/>
<line x1="326.40" y1="472.90" x2="331.60" y2="472.90" stroke="#7070cc" stroke-width="0.9"/>
<line x1="326.40" y1="474.20" x2="331.60" y2="474.20" stroke="#b4b4e0" stroke-width="0.7"/>
<line x1="328.90" y1="472.90" x2="328.90" y2="474.00" stroke="#3030d0" stroke-width="1"/>
<rect x="105.50" y="510.2" width="2" height="1" fill="#3030a8" opacity="0.55"/>
<line x1="104.20" y1="509.30" x2="108.80" y2="509.30" stroke="#d0d0ec" stroke-width="0.5"/>
<rect x="117.50" y="510.2" width="2" height="1" fill="#3030a8" opacity="0.55"/>
<line x1="116.20" y1="509.30" x2="120.80" y2="509.30" stroke="#d0d0ec" stroke-width="0.5"/>
<rect x="132.50" y="510.2" width="2" height="1" fill="#3030a8" opacity="0.55"/>
<line x1="131.20" y1="509.30" x2="135.80" y2="509.30" stroke="#d0d0ec" stroke-width="0.5"/>
<rect x="158.75" y="510.2" width="2" height="1" fill="#3030a8" opacity="0.55"/>
<line x1="157.45" y1="509.30" x2="162.05" y2="509.30" stroke="#d0d0ec" stroke-width="0.5"/>
<rect x="170.50" y="510.2" width="2" height="1" fill="#3030a8" opacity="0.55"/>
<line x1="169.20" y1="509.30" x2="173.80" y2="509.30" stroke="#d0d0ec" stroke-width="0.5"/>
<rect x="189.25" y="510.2" width="2" height="1" fill="#3030a8" opacity="0.55"/>
<line x1="187.95" y1="509.30" x2="192.55" y2="509.30" stroke="#d0d0ec" stroke-width="0.5"/>
<rect x="200.00" y="510.2" width="2" height="1" fill="#3030a8" opacity="0.55"/>
<line x1="198.70" y1="509.30" x2="203.30" y2="509.30" stroke="#d0d0ec" stroke-width="0.5"/>
<rect x="209.75" y="510.2" width="2" height="1" fill="#3030a8" opacity="0.55"/>
<line x1="208.45" y1="509.30" x2="213.05" y2="509.30" stroke="#d0d0ec" stroke-width="0.5"/>
<rect x="221.25" y="510.2" width="2" height="1" fill="#3030a8" opacity="0.55"/>
<line x1="219.95" y1="509.30" x2="224.55" y2="509.30" stroke="#d0d0ec" stroke-width="0.5"/>
<rect x="242.00" y="510.2" width="2" height="1" fill="#3030a8" opacity="0.55"/>
<line x1="240.70" y1="509.30" x2="245.30" y2="509.30" stroke="#d0d0ec" stroke-width="0.5"/>
<rect x="256.25" y="510.2" width="2" height="1" fill="#3030a8" opacity="0.55"/>
<line x1="254.95" y1="509.30" x2="259.55" y2="509.30" stroke="#d0d0ec" stroke-width="0.5"/>
<rect x="281.25" y="510.2" width="2" height="1" fill="#3030a8" opacity="0.55"/>
<line x1="279.95" y1="509.30" x2="284.55" y2="509.30" stroke="#d0d0ec" stroke-width="0.5"/>
<rect x="288.00" y="510.2" width="2" height="1" fill="#3030a8" opacity="0.55"/>
<line x1="286.70" y1="509.30" x2="291.30" y2="509.30" stroke="#d0d0ec" stroke-width="0.5"/>
<rect x="319.25" y="510.2" width="2" height="1" fill="#3030a8" opacity="0.55"/>
<line x1="317.95" y1="509.30" x2="322.55" y2="509.30" stroke="#d0d0ec" stroke-width="0.5"/>
<rect x="332.50" y="510.2" width="2" height="1" fill="#3030a8" opacity="0.55"/>
<line x1="331.20" y1="509.30" x2="335.80" y2="509.30" stroke="#d0d0ec" stroke-width="0.5"/>
<rect x="346.25" y="510.2" width="2" height="1" fill="#3030a8" opacity="0.55"/>
<line x1="344.95" y1="509.30" x2="349.55" y2="509.30" stroke="#d0d0ec" stroke-width="0.5"/>
<text x="98.10" y="516.05" font-family='"Liberation Sans", sans-serif' font-size="11" text-anchor="end" fill="#151515" stroke="#151515" stroke-width="0.45" >0</text>
<text x="98.10" y="476.05" font-family='"Liberation Sans", sans-serif' font-size="11" text-anchor="end" fill="#151515" stroke="#151515" stroke-width="0.45" >0.5</text>
<text x="98.10" y="436.05" font-family='"Liberation Sans", sans-serif' font-size="11" text-anchor="end" fill="#151515" stroke="#151515" stroke-width="0.45" >1</text>
<text x="98.10" y="396.05" font-family='"Liberation Sans", sans-serif' font-size="11" text-anchor="end" fill="#151515" stroke="#151515" stroke-width="0.45" >1.5</text>
<text x="98.10" y="356.05" font-family='"Liberation Sans", sans-serif' font-size="11" text-anchor="end" fill="#151515" stroke="#151515" stroke-width="0.45" >2</text>
<text x="98.10" y="316.05" font-family='"Liberation Sans", sans-serif' font-size="11" text-anchor="end" fill="#151515" stroke="#151515" stroke-width="0.45" >2.5</text>
<text x="100.10" y="524.00" font-family='"Liberation Sans", sans-serif' font-size="11" text-anchor="middle" fill="#151515" stroke="#151515" stroke-width="0.45" >0</text>
<text x="149.78" y="524.00" font-family='"Liberation Sans", sans-serif' font-size="11" text-anchor="middle" fill="#151515" stroke="#151515" stroke-width="0.45" >50</text>
<text x="199.46" y="524.00" font-family='"Liberation Sans", sans-serif' font-size="11" text-anchor="middle" fill="#151515" stroke="#151515" stroke-width="0.45" >100</text>
<text x="249.13" y="524.00" font-family='"Liberation Sans", sans-serif' font-size="11" text-anchor="middle" fill="#151515" stroke="#151515" stroke-width="0.45" >150</text>
<text x="298.81" y="524.00" font-family='"Liberation Sans", sans-serif' font-size="11" text-anchor="middle" fill="#151515" stroke="#151515" stroke-width="0.45" >200</text>
<text x="348.49" y="524.00" font-family='"Liberation Sans", sans-serif' font-size="11" text-anchor="middle" fill="#151515" stroke="#151515" stroke-width="0.45" >250</text>
<text x="99.80" y="309" font-family='"Liberation Sans", sans-serif' font-size="11" fill="#151515" stroke="#151515" stroke-width="0.45">x 10<tspan font-size="7.5" dx="-0.2" dy="-7.5" stroke-width="0.15">4</tspan></text>
<text x="227.27" y="302.50" font-family='"Liberation Sans", sans-serif' font-size="11" text-anchor="middle" fill="#151515" stroke="#151515" stroke-width="0.45" font-style="italic" >head</text>
<text x="226.87" y="535.00" font-family='"Liberation Sans", sans-serif' font-size="11" text-anchor="middle" fill="#151515" stroke="#151515" stroke-width="0.45" >Data Set Index</text>
<text x="77.60" y="411.90" font-family='"Liberation Sans", sans-serif' font-size="11.5" text-anchor="middle" fill="#151515" stroke="#151515" stroke-width="0.45" font-style="italic" transform="rotate(-90 77.60 411.90)">t(s)</text>
<text x="226.20" y="559.00" font-family='"Liberation Serif", serif' font-size="19.5" text-anchor="middle" fill="#151515" stroke="#151515" stroke-width="0.15" >(d)</text>
<line x1="428.40" y1="311.25" x2="428.40" y2="512.00" stroke="#9a9a9a" stroke-width="1"/>
<line x1="682.75" y1="311.25" x2="682.75" y2="512.00" stroke="#9a9a9a" stroke-width="1"/>
<line x1="427.90" y1="311.75" x2="683.25" y2="311.75" stroke="#9a9a9a" stroke-width="1"/>
<line x1="428.40" y1="311.75" x2="428.40" y2="314.35" stroke="#a8a8a8" stroke-width="1"/>
<line x1="428.40" y1="511.50" x2="428.40" y2="508.90" stroke="#a8a8a8" stroke-width="1"/>
<line x1="478.08" y1="311.75" x2="478.08" y2="314.35" stroke="#a8a8a8" stroke-width="1"/>
<line x1="478.08" y1="511.50" x2="478.08" y2="508.90" stroke="#a8a8a8" stroke-width="1"/>
<line x1="527.76" y1="311.75" x2="527.76" y2="314.35" stroke="#a8a8a8" stroke-width="1"/>
<line x1="527.76" y1="511.50" x2="527.76" y2="508.90" stroke="#a8a8a8" stroke-width="1"/>
<line x1="577.43" y1="311.75" x2="577.43" y2="314.35" stroke="#a8a8a8" stroke-width="1"/>
<line x1="577.43" y1="511.50" x2="577.43" y2="508.90" stroke="#a8a8a8" stroke-width="1"/>
<line x1="627.11" y1="311.75" x2="627.11" y2="314.35" stroke="#a8a8a8" stroke-width="1"/>
<line x1="627.11" y1="511.50" x2="627.11" y2="508.90" stroke="#a8a8a8" stroke-width="1"/>
<line x1="676.79" y1="311.75" x2="676.79" y2="314.35" stroke="#a8a8a8" stroke-width="1"/>
<line x1="676.79" y1="511.50" x2="676.79" y2="508.90" stroke="#a8a8a8" stroke-width="1"/>
<line x1="428.40" y1="511.50" x2="431.00" y2="511.50" stroke="#a8a8a8" stroke-width="1"/>
<line x1="682.75" y1="511.50" x2="680.15" y2="511.50" stroke="#a8a8a8" stroke-width="1"/>
<line x1="428.40" y1="482.93" x2="431.00" y2="482.93" stroke="#a8a8a8" stroke-width="1"/>
<line x1="682.75" y1="482.93" x2="680.15" y2="482.93" stroke="#a8a8a8" stroke-width="1"/>
<line x1="428.40" y1="454.36" x2="431.00" y2="454.36" stroke="#a8a8a8" stroke-width="1"/>
<line x1="682.75" y1="454.36" x2="680.15" y2="454.36" stroke="#a8a8a8" stroke-width="1"/>
<line x1="428.40" y1="425.79" x2="431.00" y2="425.79" stroke="#a8a8a8" stroke-width="1"/>
<line x1="682.75" y1="425.79" x2="680.15" y2="425.79" stroke="#a8a8a8" stroke-width="1"/>
<line x1="428.40" y1="397.21" x2="431.00" y2="397.21" stroke="#a8a8a8" stroke-width="1"/>
<line x1="682.75" y1="397.21" x2="680.15" y2="397.21" stroke="#a8a8a8" stroke-width="1"/>
<line x1="428.40" y1="368.64" x2="431.00" y2="368.64" stroke="#a8a8a8" stroke-width="1"/>
<line x1="682.75" y1="368.64" x2="680.15" y2="368.64" stroke="#a8a8a8" stroke-width="1"/>
<line x1="428.40" y1="340.07" x2="431.00" y2="340.07" stroke="#a8a8a8" stroke-width="1"/>
<line x1="682.75" y1="340.07" x2="680.15" y2="340.07" stroke="#a8a8a8" stroke-width="1"/>
<line x1="428.40" y1="311.50" x2="431.00" y2="311.50" stroke="#a8a8a8" stroke-width="1"/>
<line x1="682.75" y1="311.50" x2="680.15" y2="311.50" stroke="#a8a8a8" stroke-width="1"/>
<line x1="428.10" y1="511.70" x2="683.05" y2="511.70" stroke="#3c3ca8" stroke-width="1.3"/>
<rect x="451.90" y="500.00" width="1.5" height="11.60" fill="#24248c"/>
<line x1="450.15" y1="498.90" x2="455.35" y2="498.90" stroke="#7070cc" stroke-width="0.9"/>
<line x1="450.15" y1="500.20" x2="455.35" y2="500.20" stroke="#b4b4e0" stroke-width="0.7"/>
<line x1="452.65" y1="498.90" x2="452.65" y2="500.00" stroke="#3030d0" stroke-width="1"/>
<rect x="463.90" y="316.00" width="1.5" height="195.60" fill="#24248c"/>
<line x1="462.15" y1="313.40" x2="467.35" y2="313.40" stroke="#7070cc" stroke-width="0.9"/>
<line x1="462.15" y1="317.70" x2="467.35" y2="317.70" stroke="#b4b4e0" stroke-width="0.7"/>
<line x1="464.65" y1="313.40" x2="464.65" y2="316.00" stroke="#3030d0" stroke-width="1"/>
<rect x="493.15" y="504.50" width="1.5" height="7.10" fill="#24248c"/>
<line x1="491.40" y1="503.40" x2="496.60" y2="503.40" stroke="#7070cc" stroke-width="0.9"/>
<line x1="491.40" y1="504.70" x2="496.60" y2="504.70" stroke="#b4b4e0" stroke-width="0.7"/>
<line x1="493.90" y1="503.40" x2="493.90" y2="504.50" stroke="#3030d0" stroke-width="1"/>
<rect x="532.15" y="493.50" width="1.5" height="18.10" fill="#24248c"/>
<line x1="530.40" y1="492.40" x2="535.60" y2="492.40" stroke="#7070cc" stroke-width="0.9"/>
<line x1="530.40" y1="493.70" x2="535.60" y2="493.70" stroke="#b4b4e0" stroke-width="0.7"/>
<line x1="532.90" y1="492.40" x2="532.90" y2="493.50" stroke="#3030d0" stroke-width="1"/>
<rect x="552.90" y="442.00" width="1.5" height="69.60" fill="#24248c"/>
<line x1="551.15" y1="440.90" x2="556.35" y2="440.90" stroke="#7070cc" stroke-width="0.9"/>
<line x1="551.15" y1="442.20" x2="556.35" y2="442.20" stroke="#b4b4e0" stroke-width="0.7"/>
<line x1="553.65" y1="440.90" x2="553.65" y2="442.00" stroke="#3030d0" stroke-width="1"/>
<rect x="555.90" y="496.50" width="1.5" height="15.10" fill="#24248c"/>
<line x1="554.15" y1="495.40" x2="559.35" y2="495.40" stroke="#7070cc" stroke-width="0.9"/>
<line x1="554.15" y1="496.70" x2="559.35" y2="496.70" stroke="#b4b4e0" stroke-width="0.7"/>
<line x1="556.65" y1="495.40" x2="556.65" y2="496.50" stroke="#3030d0" stroke-width="1"/>
<rect x="576.90" y="423.50" width="1.5" height="88.10" fill="#24248c"/>
<line x1="575.15" y1="422.40" x2="580.35" y2="422.40" stroke="#7070cc" stroke-width="0.9"/>
<line x1="575.15" y1="423.70" x2="580.35" y2="423.70" stroke="#b4b4e0" stroke-width="0.7"/>
<line x1="577.65" y1="422.40" x2="577.65" y2="423.50" stroke="#3030d0" stroke-width="1"/>
<rect x="615.40" y="499.00" width="1.5" height="12.60" fill="#24248c"/>
<line x1="613.65" y1="497.90" x2="618.85" y2="497.90" stroke="#7070cc" stroke-width="0.9"/>
<line x1="613.65" y1="499.20" x2="618.85" y2="499.20" stroke="#b4b4e0" stroke-width="0.7"/>
<line x1="616.15" y1="497.90" x2="616.15" y2="499.00" stroke="#3030d0" stroke-width="1"/>
<rect x="645.15" y="488.50" width="1.5" height="23.10" fill="#24248c"/>
<line x1="643.40" y1="487.40" x2="648.60" y2="487.40" stroke="#7070cc" stroke-width="0.9"/>
<line x1="643.40" y1="488.70" x2="648.60" y2="488.70" stroke="#b4b4e0" stroke-width="0.7"/>
<line x1="645.90" y1="487.40" x2="645.90" y2="488.50" stroke="#3030d0" stroke-width="1"/>
<rect x="656.90" y="448.00" width="1.5" height="63.60" fill="#24248c"/>
<line x1="655.15" y1="446.90" x2="660.35" y2="446.90" stroke="#7070cc" stroke-width="0.9"/>
<line x1="655.15" y1="448.20" x2="660.35" y2="448.20" stroke="#b4b4e0" stroke-width="0.7"/>
<line x1="657.65" y1="446.90" x2="657.65" y2="448.00" stroke="#3030d0" stroke-width="1"/>
<rect x="435.00" y="510.2" width="2" height="1" fill="#3030a8" opacity="0.55"/>
<line x1="433.70" y1="509.30" x2="438.30" y2="509.30" stroke="#d0d0ec" stroke-width="0.5"/>
<rect x="446.00" y="510.2" width="2" height="1" fill="#3030a8" opacity="0.55"/>
<line x1="444.70" y1="509.30" x2="449.30" y2="509.30" stroke="#d0d0ec" stroke-width="0.5"/>
<rect x="467.00" y="510.2" width="2" height="1" fill="#3030a8" opacity="0.55"/>
<line x1="465.70" y1="509.30" x2="470.30" y2="509.30" stroke="#d0d0ec" stroke-width="0.5"/>
<rect x="488.00" y="510.2" width="2" height="1" fill="#3030a8" opacity="0.55"/>
<line x1="486.70" y1="509.30" x2="491.30" y2="509.30" stroke="#d0d0ec" stroke-width="0.5"/>
<rect x="499.25" y="510.2" width="2" height="1" fill="#3030a8" opacity="0.55"/>
<line x1="497.95" y1="509.30" x2="502.55" y2="509.30" stroke="#d0d0ec" stroke-width="0.5"/>
<rect x="519.00" y="510.2" width="2" height="1" fill="#3030a8" opacity="0.55"/>
<line x1="517.70" y1="509.30" x2="522.30" y2="509.30" stroke="#d0d0ec" stroke-width="0.5"/>
<rect x="537.00" y="510.2" width="2" height="1" fill="#3030a8" opacity="0.55"/>
<line x1="535.70" y1="509.30" x2="540.30" y2="509.30" stroke="#d0d0ec" stroke-width="0.5"/>
<rect x="547.00" y="510.2" width="2" height="1" fill="#3030a8" opacity="0.55"/>
<line x1="545.70" y1="509.30" x2="550.30" y2="509.30" stroke="#d0d0ec" stroke-width="0.5"/>
<rect x="561.00" y="510.2" width="2" height="1" fill="#3030a8" opacity="0.55"/>
<line x1="559.70" y1="509.30" x2="564.30" y2="509.30" stroke="#d0d0ec" stroke-width="0.5"/>
<rect x="571.00" y="510.2" width="2" height="1" fill="#3030a8" opacity="0.55"/>
<line x1="569.70" y1="509.30" x2="574.30" y2="509.30" stroke="#d0d0ec" stroke-width="0.5"/>
<rect x="589.00" y="510.2" width="2" height="1" fill="#3030a8" opacity="0.55"/>
<line x1="587.70" y1="509.30" x2="592.30" y2="509.30" stroke="#d0d0ec" stroke-width="0.5"/>
<rect x="599.00" y="510.2" width="2" height="1" fill="#3030a8" opacity="0.55"/>
<line x1="597.70" y1="509.30" x2="602.30" y2="509.30" stroke="#d0d0ec" stroke-width="0.5"/>
<rect x="610.00" y="510.2" width="2" height="1" fill="#3030a8" opacity="0.55"/>
<line x1="608.70" y1="509.30" x2="613.30" y2="509.30" stroke="#d0d0ec" stroke-width="0.5"/>
<rect x="629.00" y="510.2" width="2" height="1" fill="#3030a8" opacity="0.55"/>
<line x1="627.70" y1="509.30" x2="632.30" y2="509.30" stroke="#d0d0ec" stroke-width="0.5"/>
<rect x="639.00" y="510.2" width="2" height="1" fill="#3030a8" opacity="0.55"/>
<line x1="637.70" y1="509.30" x2="642.30" y2="509.30" stroke="#d0d0ec" stroke-width="0.5"/>
<rect x="661.00" y="510.2" width="2" height="1" fill="#3030a8" opacity="0.55"/>
<line x1="659.70" y1="509.30" x2="664.30" y2="509.30" stroke="#d0d0ec" stroke-width="0.5"/>
<text x="426.40" y="516.05" font-family='"Liberation Sans", sans-serif' font-size="11" text-anchor="end" fill="#151515" stroke="#151515" stroke-width="0.45" >0</text>
<text x="426.40" y="487.48" font-family='"Liberation Sans", sans-serif' font-size="11" text-anchor="end" fill="#151515" stroke="#151515" stroke-width="0.45" >0.5</text>
<text x="426.40" y="458.91" font-family='"Liberation Sans", sans-serif' font-size="11" text-anchor="end" fill="#151515" stroke="#151515" stroke-width="0.45" >1</text>
<text x="426.40" y="430.34" font-family='"Liberation Sans", sans-serif' font-size="11" text-anchor="end" fill="#151515" stroke="#151515" stroke-width="0.45" >1.5</text>
<text x="426.40" y="401.76" font-family='"Liberation Sans", sans-serif' font-size="11" text-anchor="end" fill="#151515" stroke="#151515" stroke-width="0.45" >2</text>
<text x="426.40" y="373.19" font-family='"Liberation Sans", sans-serif' font-size="11" text-anchor="end" fill="#151515" stroke="#151515" stroke-width="0.45" >2.5</text>
<text x="426.40" y="344.62" font-family='"Liberation Sans", sans-serif' font-size="11" text-anchor="end" fill="#151515" stroke="#151515" stroke-width="0.45" >3</text>
<text x="426.40" y="316.05" font-family='"Liberation Sans", sans-serif' font-size="11" text-anchor="end" fill="#151515" stroke="#151515" stroke-width="0.45" >3.5</text>
<text x="428.40" y="524.00" font-family='"Liberation Sans", sans-serif' font-size="11" text-anchor="middle" fill="#151515" stroke="#151515" stroke-width="0.45" >0</text>
<text x="478.08" y="524.00" font-family='"Liberation Sans", sans-serif' font-size="11" text-anchor="middle" fill="#151515" stroke="#151515" stroke-width="0.45" >50</text>
<text x="527.76" y="524.00" font-family='"Liberation Sans", sans-serif' font-size="11" text-anchor="middle" fill="#151515" stroke="#151515" stroke-width="0.45" >100</text>
<text x="577.43" y="524.00" font-family='"Liberation Sans", sans-serif' font-size="11" text-anchor="middle" fill="#151515" stroke="#151515" stroke-width="0.45" >150</text>
<text x="627.11" y="524.00" font-family='"Liberation Sans", sans-serif' font-size="11" text-anchor="middle" fill="#151515" stroke="#151515" stroke-width="0.45" >200</text>
<text x="676.79" y="524.00" font-family='"Liberation Sans", sans-serif' font-size="11" text-anchor="middle" fill="#151515" stroke="#151515" stroke-width="0.45" >250</text>
<text x="428.10" y="309" font-family='"Liberation Sans", sans-serif' font-size="11" fill="#151515" stroke="#151515" stroke-width="0.45">x 10<tspan font-size="7.5" dx="-0.2" dy="-7.5" stroke-width="0.15">4</tspan></text>
<text x="555.58" y="302.50" font-family='"Liberation Sans", sans-serif' font-size="11" text-anchor="middle" fill="#151515" stroke="#151515" stroke-width="0.45" font-style="italic" >random</text>
<text x="555.18" y="535.00" font-family='"Liberation Sans", sans-serif' font-size="11" text-anchor="middle" fill="#151515" stroke="#151515" stroke-width="0.45" >Data Set Index</text>
<text x="406.20" y="411.90" font-family='"Liberation Sans", sans-serif' font-size="11.5" text-anchor="middle" fill="#151515" stroke="#151515" stroke-width="0.45" font-style="italic" transform="rotate(-90 406.20 411.90)">t(s)</text>
<text x="561.20" y="559.00" font-family='"Liberation Serif", serif' font-size="19.5" text-anchor="middle" fill="#151515" stroke="#151515" stroke-width="0.15" >(e)</text>
<line x1="756.85" y1="311.25" x2="756.85" y2="512.00" stroke="#9a9a9a" stroke-width="1"/>
<line x1="1011.30" y1="311.25" x2="1011.30" y2="512.00" stroke="#9a9a9a" stroke-width="1"/>
<line x1="756.35" y1="311.75" x2="1011.80" y2="311.75" stroke="#9a9a9a" stroke-width="1"/>
<line x1="756.85" y1="311.75" x2="756.85" y2="314.35" stroke="#a8a8a8" stroke-width="1"/>
<line x1="756.85" y1="511.50" x2="756.85" y2="508.90" stroke="#a8a8a8" stroke-width="1"/>
<line x1="806.55" y1="311.75" x2="806.55" y2="314.35" stroke="#a8a8a8" stroke-width="1"/>
<line x1="806.55" y1="511.50" x2="806.55" y2="508.90" stroke="#a8a8a8" stroke-width="1"/>
<line x1="856.24" y1="311.75" x2="856.24" y2="314.35" stroke="#a8a8a8" stroke-width="1"/>
<line x1="856.24" y1="511.50" x2="856.24" y2="508.90" stroke="#a8a8a8" stroke-width="1"/>
<line x1="905.94" y1="311.75" x2="905.94" y2="314.35" stroke="#a8a8a8" stroke-width="1"/>
<line x1="905.94" y1="511.50" x2="905.94" y2="508.90" stroke="#a8a8a8" stroke-width="1"/>
<line x1="955.64" y1="311.75" x2="955.64" y2="314.35" stroke="#a8a8a8" stroke-width="1"/>
<line x1="955.64" y1="511.50" x2="955.64" y2="508.90" stroke="#a8a8a8" stroke-width="1"/>
<line x1="1005.34" y1="311.75" x2="1005.34" y2="314.35" stroke="#a8a8a8" stroke-width="1"/>
<line x1="1005.34" y1="511.50" x2="1005.34" y2="508.90" stroke="#a8a8a8" stroke-width="1"/>
<line x1="756.85" y1="511.50" x2="759.45" y2="511.50" stroke="#a8a8a8" stroke-width="1"/>
<line x1="1011.30" y1="511.50" x2="1008.70" y2="511.50" stroke="#a8a8a8" stroke-width="1"/>
<line x1="756.85" y1="486.50" x2="759.45" y2="486.50" stroke="#a8a8a8" stroke-width="1"/>
<line x1="1011.30" y1="486.50" x2="1008.70" y2="486.50" stroke="#a8a8a8" stroke-width="1"/>
<line x1="756.85" y1="461.50" x2="759.45" y2="461.50" stroke="#a8a8a8" stroke-width="1"/>
<line x1="1011.30" y1="461.50" x2="1008.70" y2="461.50" stroke="#a8a8a8" stroke-width="1"/>
<line x1="756.85" y1="436.50" x2="759.45" y2="436.50" stroke="#a8a8a8" stroke-width="1"/>
<line x1="1011.30" y1="436.50" x2="1008.70" y2="436.50" stroke="#a8a8a8" stroke-width="1"/>
<line x1="756.85" y1="411.50" x2="759.45" y2="411.50" stroke="#a8a8a8" stroke-width="1"/>
<line x1="1011.30" y1="411.50" x2="1008.70" y2="411.50" stroke="#a8a8a8" stroke-width="1"/>
<line x1="756.85" y1="386.50" x2="759.45" y2="386.50" stroke="#a8a8a8" stroke-width="1"/>
<line x1="1011.30" y1="386.50" x2="1008.70" y2="386.50" stroke="#a8a8a8" stroke-width="1"/>
<line x1="756.85" y1="361.50" x2="759.45" y2="361.50" stroke="#a8a8a8" stroke-width="1"/>
<line x1="1011.30" y1="361.50" x2="1008.70" y2="361.50" stroke="#a8a8a8" stroke-width="1"/>
<line x1="756.85" y1="336.50" x2="759.45" y2="336.50" stroke="#a8a8a8" stroke-width="1"/>
<line x1="1011.30" y1="336.50" x2="1008.70" y2="336.50" stroke="#a8a8a8" stroke-width="1"/>
<line x1="756.85" y1="311.50" x2="759.45" y2="311.50" stroke="#a8a8a8" stroke-width="1"/>
<line x1="1011.30" y1="311.50" x2="1008.70" y2="311.50" stroke="#a8a8a8" stroke-width="1"/>
<line x1="756.55" y1="511.70" x2="1011.60" y2="511.70" stroke="#3c3ca8" stroke-width="1.3"/>
<rect x="780.15" y="503.00" width="1.5" height="8.60" fill="#24248c"/>
<line x1="778.40" y1="501.90" x2="783.60" y2="501.90" stroke="#7070cc" stroke-width="0.9"/>
<line x1="778.40" y1="503.20" x2="783.60" y2="503.20" stroke="#b4b4e0" stroke-width="0.7"/>
<line x1="780.90" y1="501.90" x2="780.90" y2="503.00" stroke="#3030d0" stroke-width="1"/>
<rect x="792.65" y="386.50" width="1.5" height="125.10" fill="#24248c"/>
<line x1="790.90" y1="385.40" x2="796.10" y2="385.40" stroke="#7070cc" stroke-width="0.9"/>
<line x1="790.90" y1="386.70" x2="796.10" y2="386.70" stroke="#b4b4e0" stroke-width="0.7"/>
<line x1="793.40" y1="385.40" x2="793.40" y2="386.50" stroke="#3030d0" stroke-width="1"/>
<rect x="822.15" y="468.00" width="1.5" height="43.60" fill="#24248c"/>
<line x1="820.40" y1="466.90" x2="825.60" y2="466.90" stroke="#7070cc" stroke-width="0.9"/>
<line x1="820.40" y1="468.20" x2="825.60" y2="468.20" stroke="#b4b4e0" stroke-width="0.7"/>
<line x1="822.90" y1="466.90" x2="822.90" y2="468.00" stroke="#3030d0" stroke-width="1"/>
<rect x="860.50" y="317.00" width="1.5" height="194.60" fill="#24248c"/>
<line x1="858.75" y1="315.90" x2="863.95" y2="315.90" stroke="#7070cc" stroke-width="0.9"/>
<line x1="858.75" y1="317.20" x2="863.95" y2="317.20" stroke="#b4b4e0" stroke-width="0.7"/>
<line x1="861.25" y1="315.90" x2="861.25" y2="317.00" stroke="#3030d0" stroke-width="1"/>
<rect x="881.40" y="436.00" width="1.5" height="75.60" fill="#24248c"/>
<line x1="879.65" y1="434.90" x2="884.85" y2="434.90" stroke="#7070cc" stroke-width="0.9"/>
<line x1="879.65" y1="436.20" x2="884.85" y2="436.20" stroke="#b4b4e0" stroke-width="0.7"/>
<line x1="882.15" y1="434.90" x2="882.15" y2="436.00" stroke="#3030d0" stroke-width="1"/>
<rect x="884.15" y="459.00" width="1.5" height="52.60" fill="#24248c"/>
<line x1="882.40" y1="457.90" x2="887.60" y2="457.90" stroke="#7070cc" stroke-width="0.9"/>
<line x1="882.40" y1="459.20" x2="887.60" y2="459.20" stroke="#b4b4e0" stroke-width="0.7"/>
<line x1="884.90" y1="457.90" x2="884.90" y2="459.00" stroke="#3030d0" stroke-width="1"/>
<rect x="905.40" y="386.00" width="1.5" height="125.60" fill="#24248c"/>
<line x1="903.65" y1="384.90" x2="908.85" y2="384.90" stroke="#7070cc" stroke-width="0.9"/>
<line x1="903.65" y1="386.20" x2="908.85" y2="386.20" stroke="#b4b4e0" stroke-width="0.7"/>
<line x1="906.15" y1="384.90" x2="906.15" y2="386.00" stroke="#3030d0" stroke-width="1"/>
<rect x="943.90" y="483.00" width="1.5" height="28.60" fill="#24248c"/>
<line x1="942.15" y1="481.90" x2="947.35" y2="481.90" stroke="#7070cc" stroke-width="0.9"/>
<line x1="942.15" y1="483.20" x2="947.35" y2="483.20" stroke="#b4b4e0" stroke-width="0.7"/>
<line x1="944.65" y1="481.90" x2="944.65" y2="483.00" stroke="#3030d0" stroke-width="1"/>
<rect x="973.90" y="349.50" width="1.5" height="162.10" fill="#24248c"/>
<line x1="972.15" y1="348.40" x2="977.35" y2="348.40" stroke="#7070cc" stroke-width="0.9"/>
<line x1="972.15" y1="349.70" x2="977.35" y2="349.70" stroke="#b4b4e0" stroke-width="0.7"/>
<line x1="974.65" y1="348.40" x2="974.65" y2="349.50" stroke="#3030d0" stroke-width="1"/>
<rect x="985.40" y="505.00" width="1.5" height="6.60" fill="#24248c"/>
<line x1="983.65" y1="503.90" x2="988.85" y2="503.90" stroke="#7070cc" stroke-width="0.9"/>
<line x1="983.65" y1="505.20" x2="988.85" y2="505.20" stroke="#b4b4e0" stroke-width="0.7"/>
<line x1="986.15" y1="503.90" x2="986.15" y2="505.00" stroke="#3030d0" stroke-width="1"/>
<rect x="762.00" y="510.2" width="2" height="1" fill="#3030a8" opacity="0.55"/>
<line x1="760.70" y1="509.30" x2="765.30" y2="509.30" stroke="#d0d0ec" stroke-width="0.5"/>
<rect x="774.00" y="510.2" width="2" height="1" fill="#3030a8" opacity="0.55"/>
<line x1="772.70" y1="509.30" x2="777.30" y2="509.30" stroke="#d0d0ec" stroke-width="0.5"/>
<rect x="787.00" y="510.2" width="2" height="1" fill="#3030a8" opacity="0.55"/>
<line x1="785.70" y1="509.30" x2="790.30" y2="509.30" stroke="#d0d0ec" stroke-width="0.5"/>
<rect x="804.00" y="510.2" width="2" height="1" fill="#3030a8" opacity="0.55"/>
<line x1="802.70" y1="509.30" x2="807.30" y2="509.30" stroke="#d0d0ec" stroke-width="0.5"/>
<rect x="817.00" y="510.2" width="2" height="1" fill="#3030a8" opacity="0.55"/>
<line x1="815.70" y1="509.30" x2="820.30" y2="509.30" stroke="#d0d0ec" stroke-width="0.5"/>
<rect x="829.00" y="510.2" width="2" height="1" fill="#3030a8" opacity="0.55"/>
<line x1="827.70" y1="509.30" x2="832.30" y2="509.30" stroke="#d0d0ec" stroke-width="0.5"/>
<rect x="849.00" y="510.2" width="2" height="1" fill="#3030a8" opacity="0.55"/>
<line x1="847.70" y1="509.30" x2="852.30" y2="509.30" stroke="#d0d0ec" stroke-width="0.5"/>
<rect x="857.00" y="510.2" width="2" height="1" fill="#3030a8" opacity="0.55"/>
<line x1="855.70" y1="509.30" x2="860.30" y2="509.30" stroke="#d0d0ec" stroke-width="0.5"/>
<rect x="872.00" y="510.2" width="2" height="1" fill="#3030a8" opacity="0.55"/>
<line x1="870.70" y1="509.30" x2="875.30" y2="509.30" stroke="#d0d0ec" stroke-width="0.5"/>
<rect x="889.00" y="510.2" width="2" height="1" fill="#3030a8" opacity="0.55"/>
<line x1="887.70" y1="509.30" x2="892.30" y2="509.30" stroke="#d0d0ec" stroke-width="0.5"/>
<rect x="899.00" y="510.2" width="2" height="1" fill="#3030a8" opacity="0.55"/>
<line x1="897.70" y1="509.30" x2="902.30" y2="509.30" stroke="#d0d0ec" stroke-width="0.5"/>
<rect x="914.00" y="510.2" width="2" height="1" fill="#3030a8" opacity="0.55"/>
<line x1="912.70" y1="509.30" x2="917.30" y2="509.30" stroke="#d0d0ec" stroke-width="0.5"/>
<rect x="929.00" y="510.2" width="2" height="1" fill="#3030a8" opacity="0.55"/>
<line x1="927.70" y1="509.30" x2="932.30" y2="509.30" stroke="#d0d0ec" stroke-width="0.5"/>
<rect x="939.00" y="510.2" width="2" height="1" fill="#3030a8" opacity="0.55"/>
<line x1="937.70" y1="509.30" x2="942.30" y2="509.30" stroke="#d0d0ec" stroke-width="0.5"/>
<rect x="951.00" y="510.2" width="2" height="1" fill="#3030a8" opacity="0.55"/>
<line x1="949.70" y1="509.30" x2="954.30" y2="509.30" stroke="#d0d0ec" stroke-width="0.5"/>
<rect x="967.00" y="510.2" width="2" height="1" fill="#3030a8" opacity="0.55"/>
<line x1="965.70" y1="509.30" x2="970.30" y2="509.30" stroke="#d0d0ec" stroke-width="0.5"/>
<rect x="979.00" y="510.2" width="2" height="1" fill="#3030a8" opacity="0.55"/>
<line x1="977.70" y1="509.30" x2="982.30" y2="509.30" stroke="#d0d0ec" stroke-width="0.5"/>
<rect x="997.00" y="510.2" width="2" height="1" fill="#3030a8" opacity="0.55"/>
<line x1="995.70" y1="509.30" x2="1000.30" y2="509.30" stroke="#d0d0ec" stroke-width="0.5"/>
<text x="754.85" y="516.05" font-family='"Liberation Sans", sans-serif' font-size="11" text-anchor="end" fill="#151515" stroke="#151515" stroke-width="0.45" >0</text>
<text x="754.85" y="491.05" font-family='"Liberation Sans", sans-serif' font-size="11" text-anchor="end" fill="#151515" stroke="#151515" stroke-width="0.45" >0.5</text>
<text x="754.85" y="466.05" font-family='"Liberation Sans", sans-serif' font-size="11" text-anchor="end" fill="#151515" stroke="#151515" stroke-width="0.45" >1</text>
<text x="754.85" y="441.05" font-family='"Liberation Sans", sans-serif' font-size="11" text-anchor="end" fill="#151515" stroke="#151515" stroke-width="0.45" >1.5</text>
<text x="754.85" y="416.05" font-family='"Liberation Sans", sans-serif' font-size="11" text-anchor="end" fill="#151515" stroke="#151515" stroke-width="0.45" >2</text>
<text x="754.85" y="391.05" font-family='"Liberation Sans", sans-serif' font-size="11" text-anchor="end" fill="#151515" stroke="#151515" stroke-width="0.45" >2.5</text>
<text x="754.85" y="366.05" font-family='"Liberation Sans", sans-serif' font-size="11" text-anchor="end" fill="#151515" stroke="#151515" stroke-width="0.45" >3</text>
<text x="754.85" y="341.05" font-family='"Liberation Sans", sans-serif' font-size="11" text-anchor="end" fill="#151515" stroke="#151515" stroke-width="0.45" >3.5</text>
<text x="754.85" y="316.05" font-family='"Liberation Sans", sans-serif' font-size="11" text-anchor="end" fill="#151515" stroke="#151515" stroke-width="0.45" >4</text>
<text x="756.85" y="524.00" font-family='"Liberation Sans", sans-serif' font-size="11" text-anchor="middle" fill="#151515" stroke="#151515" stroke-width="0.45" >0</text>
<text x="806.55" y="524.00" font-family='"Liberation Sans", sans-serif' font-size="11" text-anchor="middle" fill="#151515" stroke="#151515" stroke-width="0.45" >50</text>
<text x="856.24" y="524.00" font-family='"Liberation Sans", sans-serif' font-size="11" text-anchor="middle" fill="#151515" stroke="#151515" stroke-width="0.45" >100</text>
<text x="905.94" y="524.00" font-family='"Liberation Sans", sans-serif' font-size="11" text-anchor="middle" fill="#151515" stroke="#151515" stroke-width="0.45" >150</text>
<text x="955.64" y="524.00" font-family='"Liberation Sans", sans-serif' font-size="11" text-anchor="middle" fill="#151515" stroke="#151515" stroke-width="0.45" >200</text>
<text x="1005.34" y="524.00" font-family='"Liberation Sans", sans-serif' font-size="11" text-anchor="middle" fill="#151515" stroke="#151515" stroke-width="0.45" >250</text>
<text x="756.55" y="309" font-family='"Liberation Sans", sans-serif' font-size="11" fill="#151515" stroke="#151515" stroke-width="0.45">x 10<tspan font-size="7.5" dx="-0.2" dy="-7.5" stroke-width="0.15">4</tspan></text>
<text x="884.08" y="302.50" font-family='"Liberation Sans", sans-serif' font-size="11" text-anchor="middle" fill="#151515" stroke="#151515" stroke-width="0.45" font-style="italic" >tail</text>
<text x="883.68" y="535.00" font-family='"Liberation Sans", sans-serif' font-size="11" text-anchor="middle" fill="#151515" stroke="#151515" stroke-width="0.45" >Data Set Index</text>
<text x="734.65" y="411.90" font-family='"Liberation Sans", sans-serif' font-size="11.5" text-anchor="middle" fill="#151515" stroke="#151515" stroke-width="0.45" font-style="italic" transform="rotate(-90 734.65 411.90)">t(s)</text>
<text x="889.50" y="559.00" font-family='"Liberation Serif", serif' font-size="19.5" text-anchor="middle" fill="#151515" stroke="#151515" stroke-width="0.15" >(f)</text>
<text x="9" y="134.0" font-family='"Liberation Serif", serif' font-size="19" font-style="italic" fill="#151515" stroke="#151515" stroke-width="0.05">k</text>
<text x="26" y="134.0" font-family='"Liberation Serif", serif' font-size="19" fill="#151515" stroke="#151515" stroke-width="0.05">=</text>
<text x="44.8" y="134.0" font-family='"Liberation Serif", serif' font-size="19" fill="#151515" stroke="#151515" stroke-width="0.05">2</text>
<text x="9" y="418.7" font-family='"Liberation Serif", serif' font-size="19" font-style="italic" fill="#151515" stroke="#151515" stroke-width="0.05">k</text>
<text x="26" y="418.7" font-family='"Liberation Serif", serif' font-size="19" fill="#151515" stroke="#151515" stroke-width="0.05">=</text>
<text x="44.8" y="418.7" font-family='"Liberation Serif", serif' font-size="19" fill="#151515" stroke="#151515" stroke-width="0.05">3</text>
</svg>
</body></html>
